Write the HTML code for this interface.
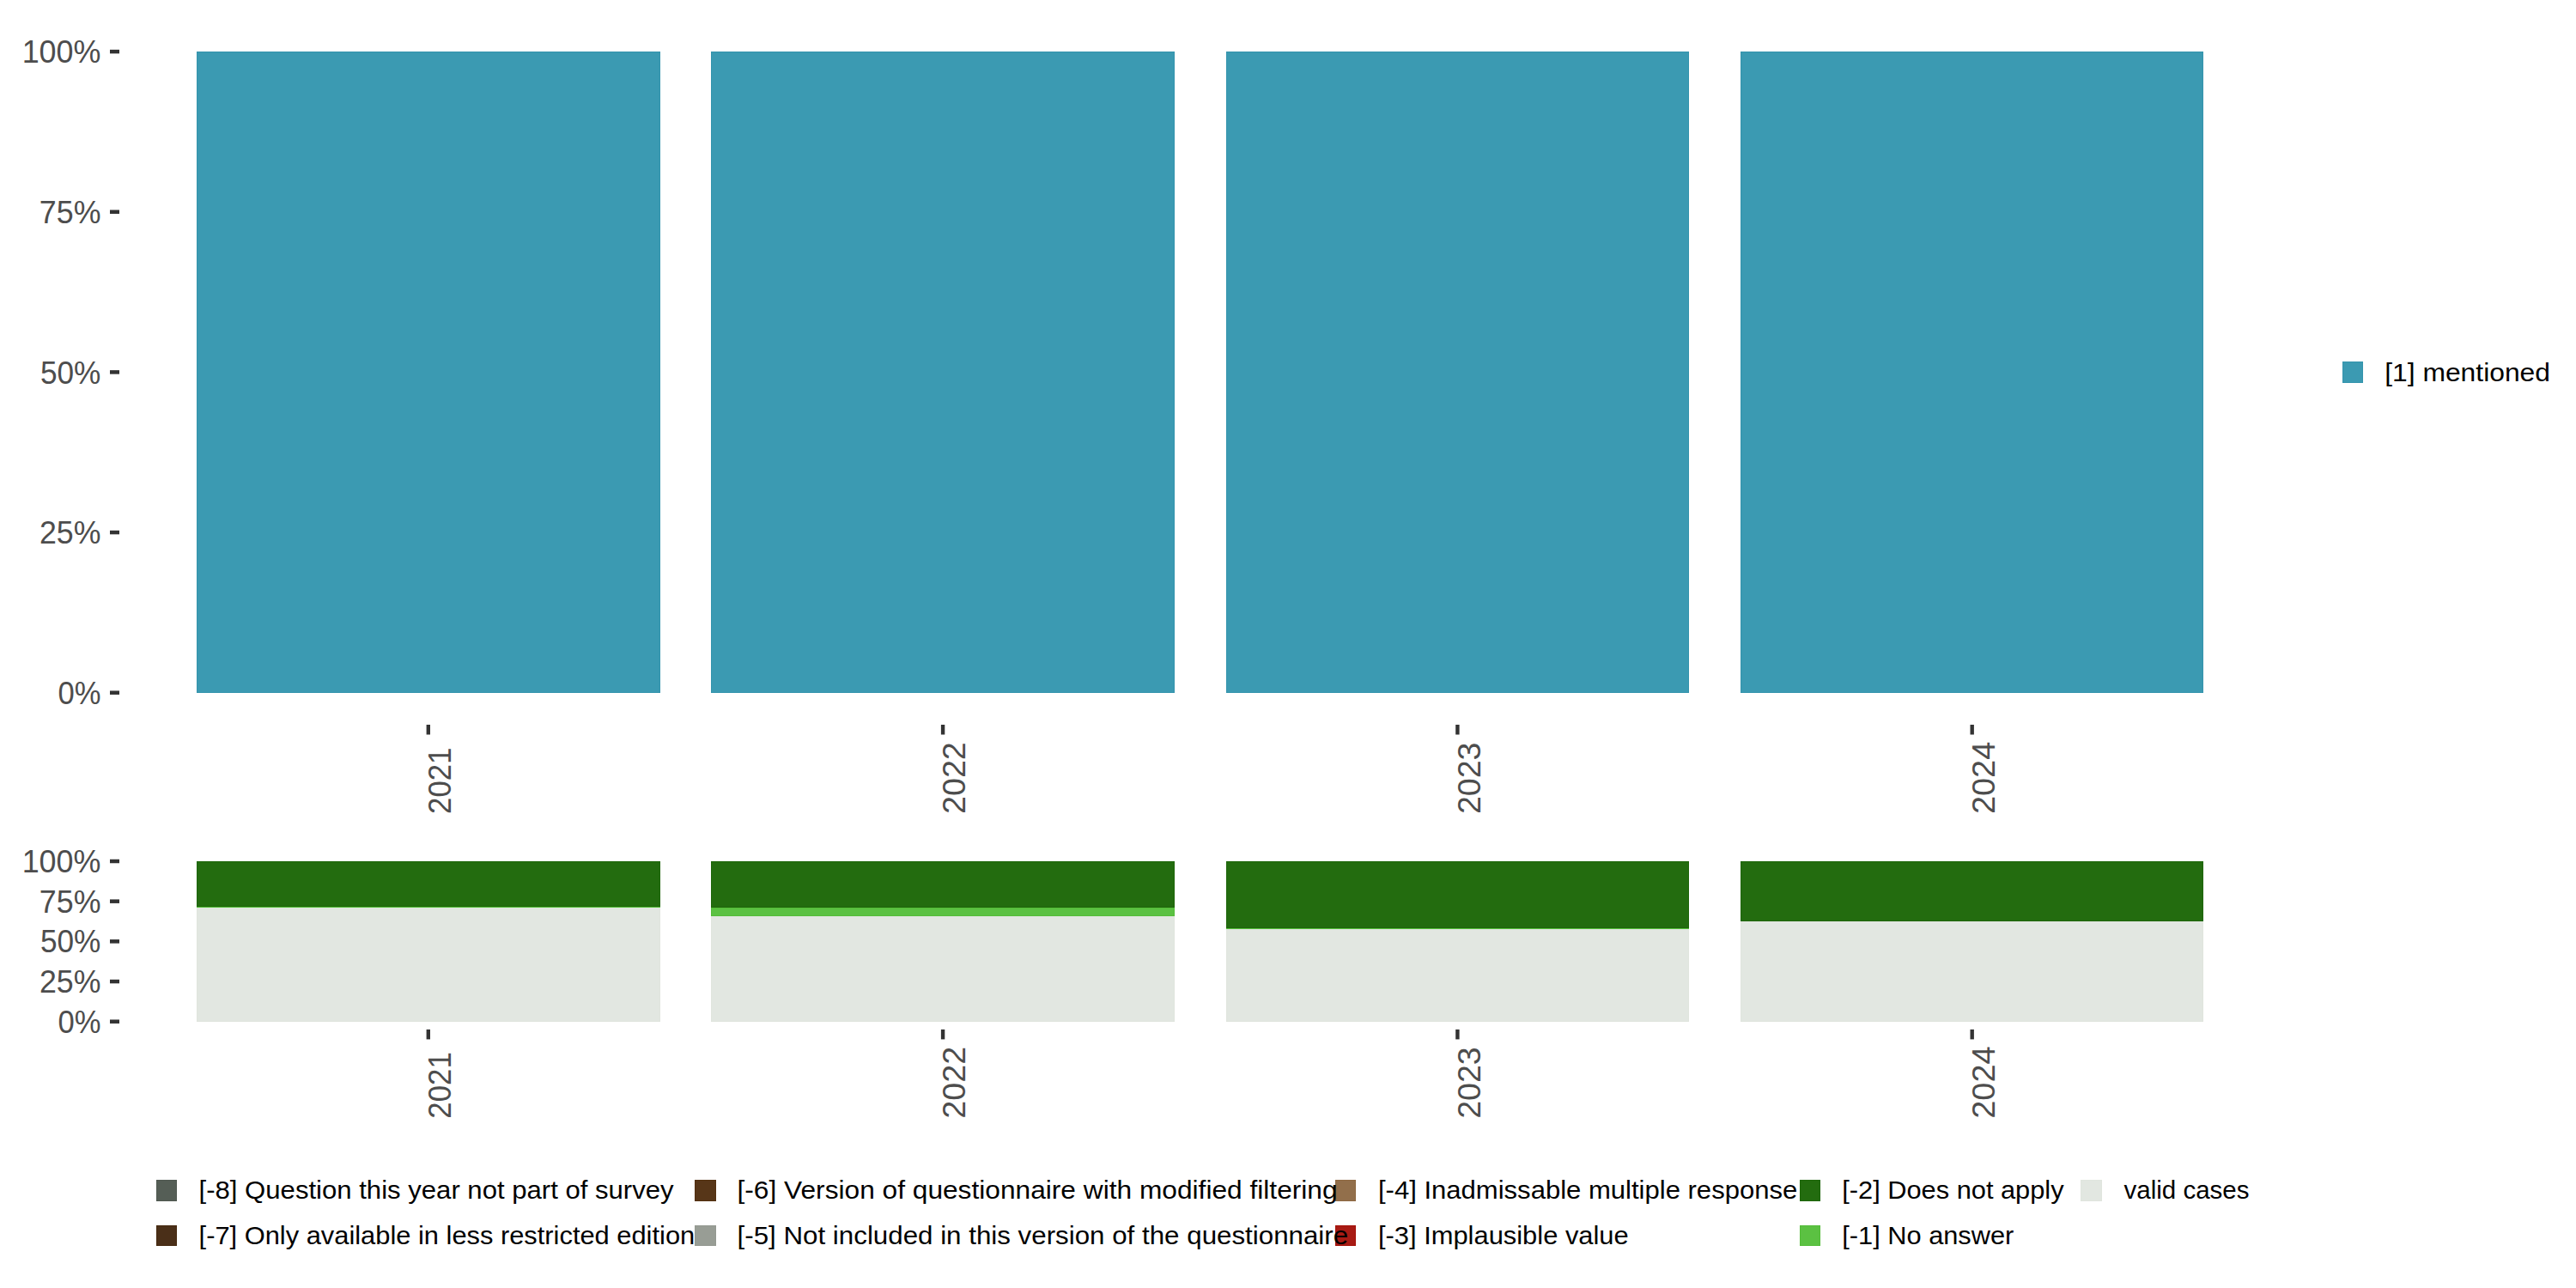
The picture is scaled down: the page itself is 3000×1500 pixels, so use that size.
<!DOCTYPE html>
<html lang="en"><head><meta charset="utf-8"><title>Chart</title>
<style>html,body{margin:0;padding:0;background:#fff}svg{display:block}text{font-family:"Liberation Sans", sans-serif}.ax{font-size:36.67px;fill:#4D4D4D}.lg{font-size:29.33px;fill:#000}</style></head><body>
<svg width="3000" height="1500" viewBox="0 0 3000 1500">
<rect x="0" y="0" width="3000" height="1500" fill="#ffffff"/>
<rect x="229.5" y="60.5" width="539" height="746" fill="#3B9AB2" stroke="#3494AD" stroke-width="1"/>
<rect x="828.5" y="60.5" width="539" height="746" fill="#3B9AB2" stroke="#3494AD" stroke-width="1"/>
<rect x="1428.5" y="60.5" width="538" height="746" fill="#3B9AB2" stroke="#3494AD" stroke-width="1"/>
<rect x="2027.5" y="60.5" width="538" height="746" fill="#3B9AB2" stroke="#3494AD" stroke-width="1"/>
<rect x="229.5" y="1057.5" width="539" height="132" fill="#E2E7E1" stroke="#E0E5DE" stroke-width="1"/>
<rect x="229" y="1056" width="540" height="1" fill="#53BC38"/>
<rect x="229.5" y="1003.5" width="539" height="52" fill="#236C0F" stroke="#1E660A" stroke-width="1"/>
<rect x="828.5" y="1067.5" width="539" height="122" fill="#E2E7E1" stroke="#E0E5DE" stroke-width="1"/>
<rect x="828.5" y="1057.5" width="539" height="9" fill="#5BC142" stroke="#53BC38" stroke-width="1"/>
<rect x="828.5" y="1003.5" width="539" height="53" fill="#236C0F" stroke="#1E660A" stroke-width="1"/>
<rect x="1428.5" y="1082.5" width="538" height="107" fill="#E2E7E1" stroke="#E0E5DE" stroke-width="1"/>
<rect x="1428" y="1081" width="539" height="1" fill="#53BC38"/>
<rect x="1428.5" y="1003.5" width="538" height="77" fill="#236C0F" stroke="#1E660A" stroke-width="1"/>
<rect x="2027.5" y="1073.5" width="538" height="116" fill="#E2E7E1" stroke="#E0E5DE" stroke-width="1"/>
<rect x="2027.5" y="1003.5" width="538" height="69" fill="#236C0F" stroke="#1E660A" stroke-width="1"/>
<rect x="128" y="57.85" width="11" height="4.5" fill="#333333"/>
<text class="ax" x="25.65" y="73.20" textLength="91.85" lengthAdjust="spacingAndGlyphs">100%</text>
<rect x="128" y="244.5" width="11" height="4.5" fill="#333333"/>
<text class="ax" x="45.83" y="259.85" textLength="71.67" lengthAdjust="spacingAndGlyphs">75%</text>
<rect x="128" y="431.15" width="11" height="4.5" fill="#333333"/>
<text class="ax" x="46.95" y="446.50" textLength="70.52" lengthAdjust="spacingAndGlyphs">50%</text>
<rect x="128" y="617.8" width="11" height="4.5" fill="#333333"/>
<text class="ax" x="45.98" y="633.15" textLength="71.52" lengthAdjust="spacingAndGlyphs">25%</text>
<rect x="128" y="804.45" width="11" height="4.5" fill="#333333"/>
<text class="ax" x="67.42" y="819.80" textLength="50.03" lengthAdjust="spacingAndGlyphs">0%</text>
<rect x="128" y="1000.75" width="11" height="4.5" fill="#333333"/>
<text class="ax" x="25.65" y="1016.10" textLength="91.85" lengthAdjust="spacingAndGlyphs">100%</text>
<rect x="128" y="1047.42" width="11" height="4.5" fill="#333333"/>
<text class="ax" x="45.83" y="1062.77" textLength="71.67" lengthAdjust="spacingAndGlyphs">75%</text>
<rect x="128" y="1094.1" width="11" height="4.5" fill="#333333"/>
<text class="ax" x="46.95" y="1109.45" textLength="70.52" lengthAdjust="spacingAndGlyphs">50%</text>
<rect x="128" y="1140.78" width="11" height="4.5" fill="#333333"/>
<text class="ax" x="45.98" y="1156.12" textLength="71.52" lengthAdjust="spacingAndGlyphs">25%</text>
<rect x="128" y="1187.45" width="11" height="4.5" fill="#333333"/>
<text class="ax" x="67.42" y="1202.80" textLength="50.03" lengthAdjust="spacingAndGlyphs">0%</text>
<rect x="496.6" y="844" width="4.4" height="11.5" fill="#333333"/>
<text class="ax" transform="translate(525.00,947.96) rotate(-90)" x="0.04" y="0" textLength="77.35" lengthAdjust="spacingAndGlyphs">2021</text>
<rect x="1095.9" y="844" width="4.4" height="11.5" fill="#333333"/>
<text class="ax" transform="translate(1124.30,947.96) rotate(-90)" x="-0.11" y="0" textLength="83.89" lengthAdjust="spacingAndGlyphs">2022</text>
<rect x="1695.2" y="844" width="4.4" height="11.5" fill="#333333"/>
<text class="ax" transform="translate(1723.60,947.96) rotate(-90)" x="-0.10" y="0" textLength="83.46" lengthAdjust="spacingAndGlyphs">2023</text>
<rect x="2294.5" y="844" width="4.4" height="11.5" fill="#333333"/>
<text class="ax" transform="translate(2322.90,947.96) rotate(-90)" x="-0.12" y="0" textLength="84.35" lengthAdjust="spacingAndGlyphs">2024</text>
<rect x="496.6" y="1198.9" width="4.4" height="11.5" fill="#333333"/>
<text class="ax" transform="translate(525.00,1302.66) rotate(-90)" x="0.04" y="0" textLength="77.35" lengthAdjust="spacingAndGlyphs">2021</text>
<rect x="1095.9" y="1198.9" width="4.4" height="11.5" fill="#333333"/>
<text class="ax" transform="translate(1124.30,1302.66) rotate(-90)" x="-0.11" y="0" textLength="83.89" lengthAdjust="spacingAndGlyphs">2022</text>
<rect x="1695.2" y="1198.9" width="4.4" height="11.5" fill="#333333"/>
<text class="ax" transform="translate(1723.60,1302.66) rotate(-90)" x="-0.10" y="0" textLength="83.46" lengthAdjust="spacingAndGlyphs">2023</text>
<rect x="2294.5" y="1198.9" width="4.4" height="11.5" fill="#333333"/>
<text class="ax" transform="translate(2322.90,1302.66) rotate(-90)" x="-0.12" y="0" textLength="84.35" lengthAdjust="spacingAndGlyphs">2024</text>
<rect x="2728.5" y="421.5" width="23" height="24" fill="#3B9AB2" stroke="#3494AD" stroke-width="1"/>
<text class="lg" x="2777.21" y="443.70" textLength="192.79" lengthAdjust="spacingAndGlyphs">[1] mentioned</text>
<rect x="182.5" y="1374.5" width="23" height="24" fill="#555E56" stroke="#4F5850" stroke-width="1"/>
<rect x="182.5" y="1427.5" width="23" height="23" fill="#4A2F18" stroke="#45290F" stroke-width="1"/>
<rect x="809.5" y="1374.5" width="24" height="24" fill="#573618" stroke="#53300F" stroke-width="1"/>
<rect x="809.5" y="1427.5" width="24" height="23" fill="#989D95" stroke="#949991" stroke-width="1"/>
<rect x="1555.5" y="1374.5" width="23" height="24" fill="#926F4B" stroke="#8E6841" stroke-width="1"/>
<rect x="1555.5" y="1427.5" width="23" height="23" fill="#A81B14" stroke="#A41109" stroke-width="1"/>
<rect x="2096.5" y="1374.5" width="23" height="24" fill="#236C0F" stroke="#1E660A" stroke-width="1"/>
<rect x="2096.5" y="1427.5" width="23" height="23" fill="#5BC142" stroke="#53BC38" stroke-width="1"/>
<rect x="2423.5" y="1374.5" width="24" height="24" fill="#E2E7E1" stroke="#E0E5DE" stroke-width="1"/>
<text class="lg" x="231.56" y="1396.20" textLength="553.08" lengthAdjust="spacingAndGlyphs">[-8] Question this year not part of survey</text>
<text class="lg" x="231.58" y="1449.20" textLength="577.63" lengthAdjust="spacingAndGlyphs">[-7] Only available in less restricted edition</text>
<text class="lg" x="858.52" y="1396.20" textLength="699.07" lengthAdjust="spacingAndGlyphs">[-6] Version of questionnaire with modified filtering</text>
<text class="lg" x="858.55" y="1449.20" textLength="711.62" lengthAdjust="spacingAndGlyphs">[-5] Not included in this version of the questionnaire</text>
<text class="lg" x="1604.96" y="1396.20" textLength="488.29" lengthAdjust="spacingAndGlyphs">[-4] Inadmissable multiple response</text>
<text class="lg" x="1604.98" y="1449.20" textLength="291.75" lengthAdjust="spacingAndGlyphs">[-3] Implausible value</text>
<text class="lg" x="2145.28" y="1396.20" textLength="258.32" lengthAdjust="spacingAndGlyphs">[-2] Does not apply</text>
<text class="lg" x="2145.28" y="1449.20" textLength="200.06" lengthAdjust="spacingAndGlyphs">[-1] No answer</text>
<text class="lg" x="2473.50" y="1396.20" textLength="145.99" lengthAdjust="spacingAndGlyphs">valid cases</text>
</svg></body></html>
